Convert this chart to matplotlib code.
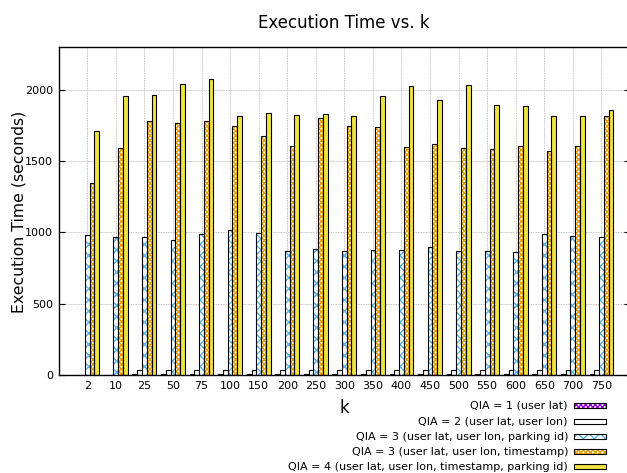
import matplotlib
matplotlib.use("Agg")
import matplotlib.pyplot as plt
from matplotlib.patches import Rectangle
import numpy as np

categories = ["2", "10", "25", "50", "75", "100", "150", "200", "250", "300",
              "350", "400", "450", "500", "550", "600", "650", "700", "750"]

qia1 = [1, 1, 5, 5, 5, 5, 5, 5, 5, 5, 5, 5, 5, 5, 5, 5, 5, 5, 5]
qia2 = [2, 2, 35, 35, 35, 35, 35, 35, 35, 35, 35, 35, 35, 35, 35, 35, 35, 35, 35]
qia3_parking = [978, 964, 964, 943, 985, 1013, 992, 866, 880, 866,
                877, 873, 894, 866, 866, 861, 985, 971, 964]
qia3_timestamp = [1344, 1589, 1776, 1762, 1776, 1741, 1671, 1603, 1797, 1741,
                  1734, 1594, 1615, 1589, 1580, 1601, 1566, 1603, 1815]
qia4 = [1706, 1955, 1962, 2040, 2072, 1815, 1839, 1822, 1832, 1815,
        1955, 2023, 1927, 2032, 1892, 1885, 1811, 1815, 1857]

labels = ["QIA = 1 (user lat)",
          "QIA = 2 (user lat, user lon)",
          "QIA = 3 (user lat, user lon, parking id)",
          "QIA = 3 (user lat, user lon, timestamp)",
          "QIA = 4 (user lat, user lon, timestamp, parking id)"]

series = [qia1, qia2, qia3_parking, qia3_timestamp, qia4]
# (face, hatch colour, hatch)
styles = [("white", "#9400D3", "xxxxxxx"),
          ("white", "white", None),
          ("white", "#56B4E9", "xxx"),
          ("white", "#E69F00", "xxxxxxx"),
          ("#F0E442", "#F0E442", None)]

W, H = 627, 473
fig = plt.figure(figsize=(W / 100, H / 100), dpi=100)
ax = fig.add_axes([58.7 / W, 98 / H, (630 - 58.7) / W, (375 - 46.7) / H])

x = np.arange(len(categories))
bw = 1 / 6
for j, (vals, (face, hc, hatch)) in enumerate(zip(series, styles)):
    pos = x + (j - 2) * bw
    ax.bar(pos, vals, width=bw, color=face, edgecolor=hc, hatch=hatch,
           linewidth=0, zorder=2)
    ax.bar(pos, vals, width=bw, facecolor="none", edgecolor="black",
           linewidth=0.8, zorder=3)

ax.set_xlim(-1, 19)
ax.set_ylim(0, 2300)
ax.set_xticks(x)
ax.set_xticklabels(categories)
ax.set_yticks([0, 500, 1000, 1500, 2000])
ax.tick_params(axis="x", length=0, pad=4, labelsize=8)
ax.tick_params(axis="y", direction="in", length=4, width=0.8, pad=4,
               labelsize=8, right=True)
ax.grid(True, color="#b0b0b0", linestyle=(0, (1, 1)), linewidth=0.6, zorder=0)
ax.set_axisbelow(True)
for s in ax.spines.values():
    s.set_linewidth(1.0)

fig.text(344 / W, 1 - 28.3 / H, "Execution Time vs. k", ha="center",
         va="baseline", fontsize=12)
fig.text(19 / W, 1 - 212 / H, "Execution Time (seconds)", rotation=90,
         ha="center", va="center", fontsize=11.3)
fig.text(344 / W, 1 - 413 / H, "k", ha="center", va="baseline", fontsize=12)

rows = [405.3, 421.0, 436.5, 451.5, 466.7]
for lab, (face, hc, hatch), ry in zip(labels, styles, rows):
    fig.text(568 / W, 1 - ry / H, lab, ha="right", va="center", fontsize=8)
    r1 = Rectangle((574 / W, 1 - (ry + 2.5) / H), 32 / W, 5 / H,
                   transform=fig.transFigure, facecolor=face, edgecolor=hc,
                   hatch=hatch, linewidth=0)
    r2 = Rectangle((574 / W, 1 - (ry + 2.5) / H), 32 / W, 5 / H,
                   transform=fig.transFigure, facecolor="none",
                   edgecolor="black", linewidth=0.8)
    fig.patches.extend([r1, r2])

fig.savefig("out.png", dpi=100)
